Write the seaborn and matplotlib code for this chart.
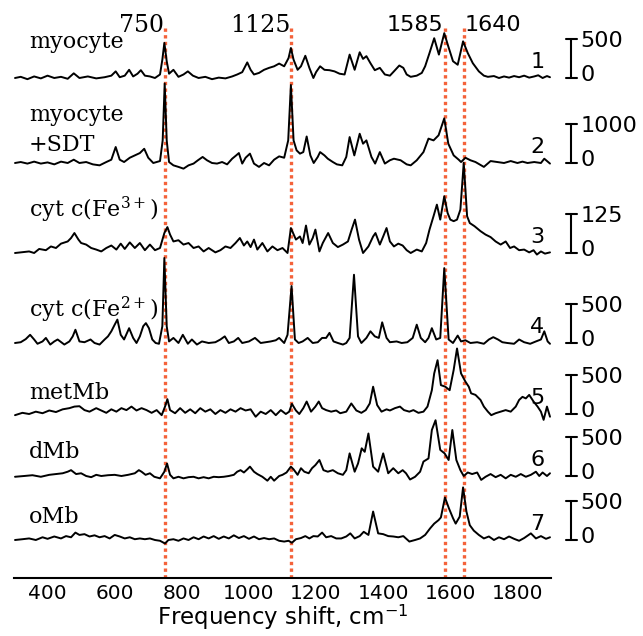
import pandas as pd
import seaborn as sns
import matplotlib.pyplot as plt

# Raman spectra: wavenumber (cm-1) and counts above each trace's baseline
myocyte_x = [303, 320, 340, 360, 380, 400, 420, 440, 460, 478, 495, 520, 545, 570, 590, 603, 615, 630, 643, 655,
             668, 678, 690, 705, 720, 735, 742, 748, 755, 762, 775, 790, 805, 818, 833, 850, 870, 890, 910, 930,
             950, 965, 980, 995, 1005, 1015, 1030, 1045, 1060, 1075, 1090, 1105, 1118, 1125, 1133, 1145, 1155, 1168, 1180, 1192,
             1200, 1212, 1225, 1240, 1255, 1270, 1285, 1300, 1315, 1330, 1340, 1350, 1362, 1375, 1390, 1405, 1420, 1432, 1448, 1460,
             1470, 1482, 1500, 1515, 1525, 1538, 1552, 1566, 1582, 1594, 1608, 1622, 1638, 1652, 1667, 1685, 1700, 1712, 1730, 1745,
             1760, 1775, 1790, 1805, 1820, 1835, 1850, 1862, 1875, 1888, 1897]
myocyte_y = [0, 15, -15, 20, -5, 30, 0, 15, -10, 60, 0, 20, -5, 10, 30, 85, 10, 30, 105, 20,
             55, 100, 30, 20, 0, 45, 235, 450, 215, 55, 105, 15, 45, 85, 30, 0, 15, -15, 5, -5,
             20, 45, 75, 200, 105, 45, 65, 105, 130, 150, 185, 150, 255, 385, 235, 105, 150, 285, 130, 0,
             75, 150, 105, 100, 85, 55, 45, 300, 105, 330, 245, 280, 190, 100, 130, 45, 30, 85, 160, 130,
             45, 15, 30, 65, 150, 320, 510, 300, 575, 405, 215, 170, 470, 320, 190, 85, 30, 15, 25, 0,
             20, 5, 25, 10, 30, 5, 20, 35, 0, 25, 10]

sdt_x = [303, 320, 340, 360, 380, 400, 420, 440, 460, 478, 495, 515, 535, 555, 575, 590, 603, 615, 628, 645,
         660, 675, 688, 700, 715, 735, 743, 749, 755, 762, 775, 790, 805, 820, 835, 848, 862, 875, 890, 905,
         920, 935, 950, 962, 970, 980, 990, 1003, 1015, 1030, 1045, 1060, 1075, 1090, 1105, 1117, 1125, 1133, 1142, 1152,
         1162, 1172, 1183, 1193, 1205, 1212, 1225, 1235, 1250, 1262, 1278, 1290, 1300, 1314, 1330, 1340, 1350, 1365, 1376, 1390,
         1405, 1420, 1432, 1452, 1470, 1482, 1500, 1520, 1535, 1550, 1565, 1582, 1594, 1610, 1625, 1632, 1645, 1660, 1675, 1700,
         1720, 1740, 1760, 1780, 1800, 1815, 1830, 1850, 1870, 1880, 1897]
sdt_y = [0, 25, -15, 35, -15, 15, -35, 35, 0, 85, 0, 25, -35, -60, 25, 85, 410, 85, 25, 135,
         195, 255, 365, 135, 0, 50, 580, 2040, 580, 25, -60, -100, -145, -60, -15, 70, 155, 70, 0, -15,
         25, -35, 110, 195, 255, -15, 135, 240, -15, -100, 0, -60, 85, 170, 135, 580, 2000, 580, 325, 240,
         280, 680, 195, 0, 155, 280, 195, 110, 25, -35, -60, 155, 665, 195, 750, 495, 580, 155, -15, 280,
         -15, 70, 110, 70, -35, -60, 70, 280, 625, 580, 710, 1145, 495, 195, 85, 25, 135, 70, 25, -100,
         50, 25, 0, 50, 0, 35, 0, 25, 0, 110, -15]

cyt3_x = [303, 320, 345, 360, 375, 395, 410, 425, 440, 460, 470, 480, 492, 500, 515, 530, 545, 560, 575, 590,
          605, 618, 630, 645, 660, 675, 690, 705, 720, 735, 748, 757, 765, 775, 790, 805, 820, 835, 850, 865,
          880, 900, 915, 930, 945, 960, 973, 985, 995, 1005, 1015, 1025, 1040, 1055, 1070, 1085, 1100, 1115, 1125, 1140,
          1152, 1160, 1170, 1180, 1190, 1198, 1210, 1220, 1236, 1250, 1265, 1280, 1295, 1306, 1316, 1328, 1340, 1356, 1370, 1377,
          1390, 1400, 1410, 1420, 1432, 1445, 1458, 1470, 1482, 1500, 1515, 1528, 1538, 1550, 1560, 1570, 1582, 1592, 1600, 1610,
          1620, 1630, 1640, 1650, 1658, 1672, 1690, 1705, 1720, 1735, 1750, 1765, 1778, 1790, 1805, 1820, 1835, 1848, 1858, 1870,
          1882, 1897]
cyt3_y = [0, 2, 5, 0, 13, 9, 21, 16, 30, 37, 48, 64, 43, 32, 27, 16, 11, 5, 16, 24,
          11, 30, 13, 34, 16, 32, 9, 27, 9, 16, 64, 83, 59, 37, 41, 27, 32, 16, 21, 5,
          16, 2, 9, 21, 16, 32, 48, 24, 37, 19, 43, 11, 32, 5, 21, 9, 16, 0, 80, 43,
          53, 32, 88, 27, 48, 75, 5, 32, 64, 32, 19, 27, 37, 75, 107, 43, 0, 21, 53, 64,
          27, 53, 80, 37, 21, 30, 24, 9, 0, 11, 5, 32, 75, 118, 155, 107, 182, 128, 107, 102,
          107, 139, 289, 118, 96, 86, 70, 59, 51, 37, 27, 37, 16, 21, 9, 11, 2, 9, -5, 5,
          -2, 2]

cyt2_x = [303, 320, 335, 348, 360, 370, 385, 395, 408, 420, 430, 450, 465, 475, 483, 495, 510, 528, 540, 555,
          570, 580, 590, 600, 608, 618, 628, 643, 655, 665, 675, 685, 693, 702, 712, 722, 732, 742, 748, 755,
          762, 775, 790, 803, 818, 830, 845, 860, 880, 900, 915, 928, 940, 955, 968, 980, 1000, 1018, 1035, 1050,
          1065, 1080, 1090, 1105, 1115, 1127, 1137, 1148, 1160, 1175, 1190, 1205, 1218, 1230, 1240, 1252, 1265, 1280, 1290, 1300,
          1313, 1325, 1335, 1350, 1362, 1375, 1387, 1397, 1410, 1420, 1440, 1455, 1472, 1488, 1500, 1512, 1525, 1535, 1545, 1558,
          1570, 1582, 1595, 1608, 1622, 1632, 1645, 1660, 1680, 1700, 1715, 1728, 1742, 1755, 1770, 1790, 1805, 1820, 1838, 1855,
          1870, 1880, 1890, 1897]
cyt2_y = [0, 10, 50, 105, 45, -10, 20, 65, -20, 20, 45, -20, 20, 85, 170, 20, 10, 45, 0, -20,
          45, 85, 150, 235, 300, 105, 45, 190, 65, 0, 85, 215, 255, 190, 45, 0, -10, 215, 1090, 215,
          20, 65, 0, 105, -10, 45, -20, 20, 0, 10, 45, 85, 0, 20, 65, 0, 20, 65, 0, 10,
          20, 35, 65, 0, 105, 730, 45, 0, 20, 65, 0, 10, 65, 65, 130, 20, 0, -20, 0, 65,
          875, 85, 0, 65, 150, 85, 65, 265, 65, 10, 20, 0, 10, 65, 235, 65, 10, 65, 190, 45,
          65, 960, 45, 0, 95, 20, 35, 0, 10, -10, 45, 75, 45, 10, 0, -10, 45, 10, -10, 20,
          45, 150, 20, -10]

metmb_x = [303, 325, 345, 365, 385, 405, 425, 445, 465, 480, 495, 510, 525, 545, 560, 575, 590, 605, 620, 635,
           650, 665, 680, 695, 710, 725, 740, 750, 757, 765, 780, 795, 810, 825, 840, 855, 870, 885, 900, 915,
           930, 945, 960, 975, 990, 1005, 1020, 1035, 1050, 1065, 1080, 1095, 1110, 1120, 1128, 1140, 1150, 1162, 1172, 1185,
           1198, 1208, 1218, 1230, 1245, 1260, 1272, 1290, 1305, 1320, 1335, 1348, 1360, 1370, 1382, 1395, 1410, 1420, 1435, 1450,
           1462, 1478, 1490, 1505, 1520, 1532, 1545, 1552, 1562, 1572, 1585, 1598, 1610, 1620, 1632, 1645, 1655, 1662, 1675, 1690,
           1700, 1712, 1722, 1735, 1750, 1765, 1780, 1795, 1805, 1815, 1825, 1835, 1848, 1860, 1870, 1878, 1888, 1897]
metmb_y = [-15, 15, 0, 30, 10, 45, 25, 60, 75, 95, 100, 50, 30, 75, 45, 15, 60, 30, 75, 50,
           95, 45, 75, 50, 15, 50, -15, 95, 190, 50, 10, 75, 15, 60, 10, 75, 30, 60, 0, 50,
           15, 60, 30, 75, 45, 60, -35, 30, 0, 50, -15, 50, 0, 30, 130, 45, 0, 75, 160, 30,
           95, 160, 75, 50, 30, 45, 10, 30, 135, 45, 15, 50, 135, 350, 115, 30, 60, 45, 75, 95,
           50, 30, 50, 15, 30, 95, 305, 520, 690, 370, 350, 305, 565, 840, 520, 415, 350, 265, 245, 180,
           95, 30, -15, 10, 30, 50, 30, 95, 180, 220, 200, 245, 160, 95, 30, -75, 95, -35]

dmb_x = [303, 330, 355, 380, 405, 425, 445, 460, 470, 485, 500, 515, 530, 545, 560, 580, 600, 620, 640, 660,
         672, 680, 692, 705, 718, 735, 748, 756, 765, 775, 790, 805, 820, 835, 850, 865, 880, 895, 910, 925,
         940, 955, 965, 975, 985, 995, 1003, 1015, 1025, 1040, 1055, 1065, 1075, 1090, 1100, 1112, 1125, 1133, 1145, 1155,
         1165, 1178, 1188, 1198, 1210, 1222, 1235, 1250, 1265, 1280, 1290, 1300, 1315, 1325, 1336, 1345, 1356, 1370, 1385, 1400,
         1415, 1430, 1445, 1458, 1468, 1480, 1495, 1510, 1520, 1535, 1545, 1556, 1570, 1583, 1595, 1606, 1618, 1630, 1640, 1652,
         1665, 1680, 1692, 1705, 1720, 1735, 1750, 1765, 1780, 1795, 1810, 1825, 1840, 1855, 1865, 1875, 1888, 1897]
dmb_y = [-10, 0, 10, -10, 15, 25, 35, 55, 75, 25, 35, 0, -15, 15, 0, 10, 15, 0, 15, 35,
         75, 55, 15, 35, -10, -30, 55, 160, 15, -30, -10, -30, -15, -10, -30, -15, -30, -10, -15, -10,
         0, 15, 55, 75, 45, 85, 120, 55, 25, -10, -60, -10, -60, 0, 15, 45, 120, 85, 15, 100,
         55, 35, 100, 140, 205, 75, 55, 75, 35, 15, 75, 290, 55, 160, 355, 310, 545, 120, 55, 290,
         35, 100, 35, 75, 35, -45, -10, 55, 185, 225, 590, 715, 335, 290, 205, 590, 205, 75, 0, 45,
         25, 45, -50, -10, 25, -15, 15, -30, 15, -10, 25, -10, 15, 55, 0, 45, 0, 35]

omb_x = [303, 325, 345, 365, 385, 400, 420, 440, 455, 470, 483, 495, 510, 525, 540, 555, 570, 585, 600, 615,
         630, 645, 660, 675, 690, 705, 720, 735, 750, 760, 775, 790, 805, 820, 835, 850, 865, 880, 895, 910,
         925, 940, 955, 970, 985, 1000, 1015, 1030, 1045, 1060, 1075, 1090, 1105, 1118, 1128, 1140, 1155, 1168, 1180, 1192,
         1205, 1218, 1230, 1245, 1260, 1275, 1290, 1302, 1315, 1330, 1342, 1356, 1370, 1385, 1400, 1415, 1430, 1445, 1460, 1478,
         1495, 1510, 1525, 1540, 1552, 1565, 1572, 1584, 1596, 1608, 1616, 1628, 1638, 1648, 1658, 1670, 1685, 1700, 1715, 1730,
         1745, 1760, 1775, 1790, 1805, 1820, 1840, 1855, 1870, 1885, 1897]
omb_y = [0, 10, 20, 0, 35, 15, 45, 20, 50, 35, 95, 65, 75, 45, 60, 35, 50, 20, 65, 45,
         20, 35, 10, 20, 10, 20, 0, -10, -45, 0, 10, -10, 20, 0, 35, 10, 45, 20, 50, 15,
         45, 20, 60, 25, 50, 15, 45, 10, 25, 10, 20, -10, -20, -10, -35, 10, 25, 50, 20, 50,
         45, 95, 35, 50, 20, 20, 45, 85, 20, 50, 105, 65, 365, 85, 75, 50, 45, 35, 50, -20,
         0, 20, 65, 150, 210, 255, 290, 545, 405, 280, 210, 300, 675, 365, 190, 120, 65, 20, 45, 0,
         35, 10, 45, 15, -10, 25, 85, 20, 50, 15, 35]

names = ["myocyte", "myocyte\n+SDT", "cyt c(Fe$^{3+}$)", "cyt c(Fe$^{2+}$)", "metMb", "dMb", "oMb"]
scale_bar = [500, 1000, 125, 500, 500, 500, 500]
band_lines = [750, 1125, 1585, 1640]
xticks = [400, 600, 800, 1000, 1200, 1400, 1600, 1800]

spectra = [(myocyte_x, myocyte_y), (sdt_x, sdt_y), (cyt3_x, cyt3_y), (cyt2_x, cyt2_y),
           (metmb_x, metmb_y), (dmb_x, dmb_y), (omb_x, omb_y)]

# layout: baseline of each trace (pixels up from the bottom of the figure) and bar height
baselines = [558, 473, 383, 293, 222, 160, 96]
bar_px = 39.0

frames = []
for i, (xs, ys) in enumerate(spectra):
    d = pd.DataFrame({"shift": xs, "counts": ys})
    d["trace"] = i + 1
    d["y"] = baselines[i] + d["counts"] * bar_px / scale_bar[i]
    frames.append(d)
df = pd.concat(frames, ignore_index=True)

sns.set_style("white")
plt.rcParams["font.family"] = ["DejaVu Sans"]
plt.rcParams["mathtext.fontset"] = "dejavuserif"
plt.rcParams["text.color"] = "black"

fig = plt.figure(figsize=(6.43, 6.36), dpi=100)
ax = fig.add_axes([14 / 643, 58 / 636, 537 / 643, 550 / 636])

for b in band_lines:
    ax.axvline(b, color="#f4623a", lw=2.4, dashes=(1.0, 1.0), zorder=1)

sns.lineplot(data=df, x="shift", y="y", units="trace", estimator=None, sort=False,
             color="black", lw=1.4, ax=ax, zorder=3)

ax.set_xlim(300, 1900)
ax.set_ylim(58, 608)
ax.set_xticks(xticks)
ax.set_yticks([])
ax.set_ylabel("")
ax.set_xlabel("Frequency shift, cm$^{\\mathregular{-1}}$", fontsize=16.5, labelpad=0, color="black")
ax.tick_params(axis="x", direction="in", length=6, width=1, labelsize=14.5, pad=4,
               colors="black")
for s in ["left", "right", "top"]:
    ax.spines[s].set_visible(False)
ax.spines["bottom"].set_linewidth(1.5)
ax.spines["bottom"].set_color("black")

# band positions above the plot
ax.text(748, 611, "750", ha="right", va="center", fontsize=17, family="DejaVu Serif", clip_on=False)
ax.text(1123, 611, "1125", ha="right", va="center", fontsize=17, family="DejaVu Serif", clip_on=False)
ax.text(1580, 611, "1585", ha="right", va="center", fontsize=16, clip_on=False)
ax.text(1642, 611, "1640", ha="left", va="center", fontsize=16, clip_on=False)

label_y = [594, 506, 426, 326, 243, 184, 119]
for i, name in enumerate(names):
    ax.text(345, label_y[i], name, ha="left", va="center", fontsize=16,
            family="DejaVu Serif", linespacing=1.45)
    ax.text(1880, baselines[i] + 16, str(i + 1), ha="right", va="center", fontsize=16)
    # intensity scale bar
    x0 = 1960
    top = baselines[i] + bar_px
    ax.plot([x0, x0], [baselines[i], top], color="black", lw=1.5, clip_on=False)
    ax.plot([x0 - 16, x0 + 16], [top, top], color="black", lw=1.5, clip_on=False)
    ax.plot([x0 - 16, x0 + 16], [baselines[i], baselines[i]], color="black", lw=1.5, clip_on=False)
    ax.text(x0 + 28, top - 2, str(scale_bar[i]), ha="left", va="center", fontsize=16, clip_on=False)
    ax.text(x0 + 28, baselines[i] + 3, "0", ha="left", va="center", fontsize=16, clip_on=False)

fig.savefig("out.png", dpi=100)
